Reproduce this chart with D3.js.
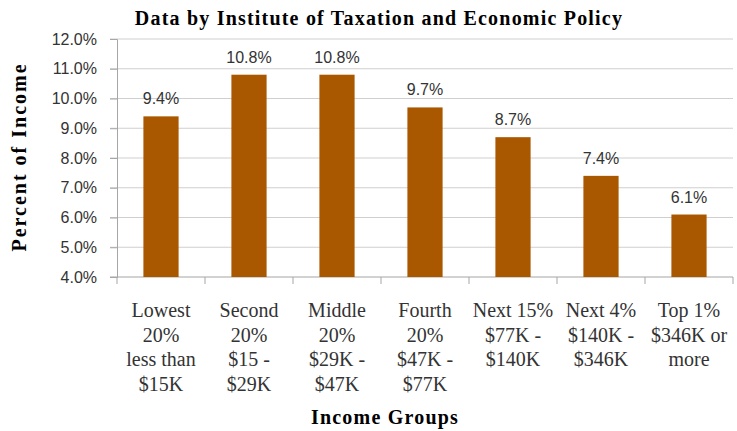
<!DOCTYPE html>
<html>
<head>
<meta charset="utf-8">
<script src="https://cdn.jsdelivr.net/npm/d3@7"></script>
<style>
  body { margin: 0; background: #fff; }
  .ytick text, .vlabel { font-family: 'Liberation Sans', Arial, sans-serif; font-size: 16px; fill: #333; }
  .xlab { font-family: 'Liberation Serif', 'DejaVu Serif', 'Times New Roman', serif; font-size: 20px; fill: #333; }
  .ttl { font-family: 'Liberation Serif', 'DejaVu Serif', 'Times New Roman', serif; font-weight: bold; font-size: 20px; fill: #000; letter-spacing: 1.2px; }
</style>
</head>
<body>
<div id="chart"></div>
<script>
const categories = [
  ['Lowest', '20%', 'less than', '$15K'],
  ['Second', '20%', '$15 -', '$29K'],
  ['Middle', '20%', '$29K -', '$47K'],
  ['Fourth', '20%', '$47K -', '$77K'],
  ['Next 15%', '$77K -', '$140K'],
  ['Next 4%', '$140K -', '$346K'],
  ['Top 1%', '$346K or', 'more']
];
const values = [9.4, 10.8, 10.8, 9.7, 8.7, 7.4, 6.1];
const yTicks = [4, 5, 6, 7, 8, 9, 10, 11, 12];

const W = 737, H = 431;
const margin = { top: 39, right: 4, bottom: 154, left: 117 };
const width = W - margin.left - margin.right;
const height = H - margin.top - margin.bottom;

const svg = d3.select('#chart').append('svg')
  .attr('width', W).attr('height', H);

const g = svg.append('g')
  .attr('transform', 'translate(' + margin.left + ',' + margin.top + ')');

const x = d3.scaleBand()
  .domain(d3.range(categories.length))
  .range([0, width])
  .padding(0);

const y = d3.scaleLinear().domain([4, 12]).range([height, 0]);

// gridlines
g.selectAll('.grid')
  .data(yTicks)
  .enter()
  .append('line')
  .attr('x1', -7).attr('x2', width)
  .attr('y1', d => y(d)).attr('y2', d => y(d))
  .attr('stroke', d => d === 4 ? '#a6a6a6' : '#cfcfcf')
  .attr('stroke-width', 1.2);

// y axis
const yAxis = g.append('g').attr('class', 'ytick')
  .call(d3.axisLeft(y).tickValues(yTicks).tickSize(7).tickPadding(13)
    .tickFormat(d => d.toFixed(1) + '%'));
yAxis.attr('font-family', null).attr('font-size', null);
yAxis.select('.domain').attr('stroke', '#a6a6a6');
yAxis.selectAll('line').attr('stroke', '#a6a6a6');

// x axis ticks
g.selectAll('.xtick')
  .data(d3.range(categories.length + 1))
  .enter()
  .append('line')
  .attr('x1', d => d * x.step()).attr('x2', d => d * x.step())
  .attr('y1', height).attr('y2', height + 7)
  .attr('stroke', '#a6a6a6');

// bars
const bw = x.bandwidth() * 0.4;
g.selectAll('.bar')
  .data(values)
  .enter()
  .append('rect')
  .attr('x', (d, i) => x(i) + (x.bandwidth() - bw) / 2)
  .attr('width', bw)
  .attr('y', d => y(d))
  .attr('height', d => height - y(d))
  .attr('fill', '#a95800');

// value labels
g.selectAll('.vlabel')
  .data(values)
  .enter()
  .append('text')
  .attr('class', 'vlabel')
  .attr('x', (d, i) => x(i) + x.bandwidth() / 2)
  .attr('y', d => y(d) - 12)
  .attr('text-anchor', 'middle')
  .text(d => d.toFixed(1) + '%');

// category labels
const xl = g.selectAll('.xlab')
  .data(categories)
  .enter()
  .append('text')
  .attr('class', 'xlab')
  .attr('text-anchor', 'middle')
  .attr('transform', (d, i) => 'translate(' + (x(i) + x.bandwidth() / 2) + ',' + (height + 40) + ')');
xl.selectAll('tspan')
  .data(d => d)
  .enter()
  .append('tspan')
  .attr('x', 0)
  .attr('y', (d, i) => i * 24.7)
  .text(d => d);

// titles
svg.append('text').attr('class', 'ttl')
  .attr('x', 379).attr('y', 25)
  .attr('text-anchor', 'middle')
  .text('Data by Institute of Taxation and Economic Policy');

svg.append('text').attr('class', 'ttl')
  .attr('x', 385).attr('y', 424)
  .attr('text-anchor', 'middle')
  .text('Income Groups');

svg.append('text').attr('class', 'ttl')
  .attr('transform', 'translate(26,157) rotate(-90)')
  .attr('text-anchor', 'middle')
  .style('letter-spacing', '2px')
  .text('Percent of Income');
</script>
</body>
</html>
